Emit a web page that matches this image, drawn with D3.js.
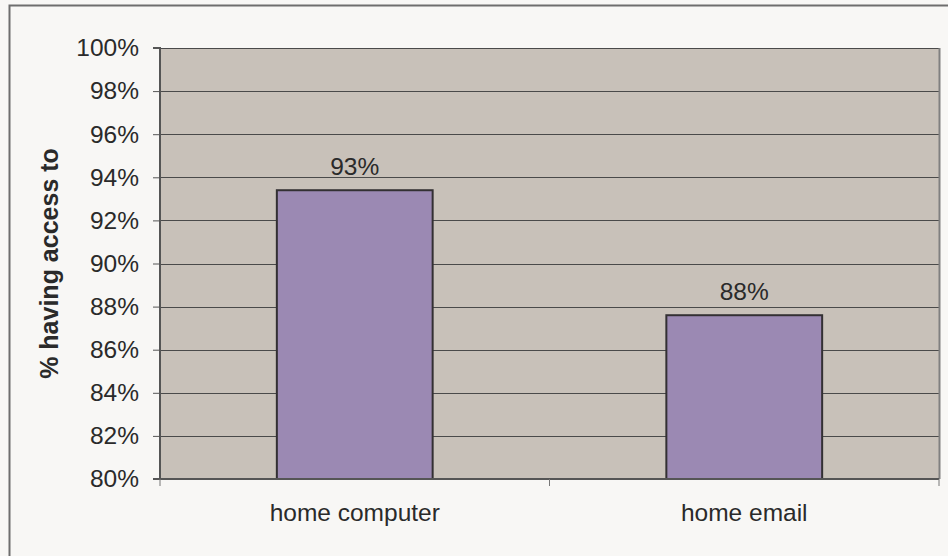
<!DOCTYPE html>
<html>
<head>
<meta charset="utf-8">
<script src="https://cdn.jsdelivr.net/npm/d3@7"></script>
<style>
  html, body { margin: 0; padding: 0; background: #f8f7f5; }
  svg { display: block; font-family: "Liberation Sans", Arial, sans-serif; }
</style>
</head>
<body>
<svg id="chart" width="948" height="556"></svg>
<script>
// Share of respondents with access, per category
const categories = ["home computer", "home email"];
const values = [0.934, 0.876];
const yTicks = [0.80, 0.82, 0.84, 0.86, 0.88, 0.90, 0.92, 0.94, 0.96, 0.98, 1.00];
const yTitle = "% having access to";

const svg = d3.select("#chart");
const W = 948, H = 556;
const m = { left: 160, top: 48, right: 9, bottom: 77 };
const pw = W - m.left - m.right, ph = H - m.top - m.bottom;
const FS = 24.5;

// outer frame
svg.append("rect")
  .attr("x", 9.5).attr("y", 5.5)
  .attr("width", W + 10).attr("height", H + 10)
  .attr("fill", "#f8f7f5").attr("stroke", "#6e6e6e").attr("stroke-width", 2);

const g = svg.append("g").attr("transform", `translate(${m.left},${m.top})`);

const x = d3.scaleBand().domain(categories).range([0, pw]).paddingInner(0.6).paddingOuter(0.3);
const y = d3.scaleLinear().domain([0.8, 1.0]).range([ph, 0]);

// plot background
g.append("rect").attr("width", pw).attr("height", ph).attr("fill", "#c8c1b9");

// grid lines
g.selectAll(".grid").data(yTicks.slice(1)).join("line")
  .attr("x1", 0).attr("x2", pw)
  .attr("y1", d => Math.round(y(d)) + 0.5).attr("y2", d => Math.round(y(d)) + 0.5)
  .attr("stroke", "#4a4a4a").attr("stroke-width", 1);

// right edge of plot area
g.append("line").attr("x1", pw + 0.5).attr("x2", pw + 0.5).attr("y1", 0).attr("y2", ph)
  .attr("stroke", "#808080").attr("stroke-width", 2);

// bars
g.selectAll(".bar").data(values).join("rect")
  .attr("x", (d, i) => x(categories[i]))
  .attr("y", d => y(d))
  .attr("width", x.bandwidth())
  .attr("height", d => ph - y(d))
  .attr("fill", "#9b89b3")
  .attr("stroke", "#333033").attr("stroke-width", 2);

// value labels
const fmt = d3.format(".0%");
g.selectAll(".val").data(values).join("text")
  .attr("x", (d, i) => x(categories[i]) + x.bandwidth() / 2)
  .attr("y", d => y(d) - 15)
  .attr("text-anchor", "middle")
  .attr("font-size", FS).attr("fill", "#2a2a2a")
  .text(d => fmt(d));

// y axis
const yAxis = d3.axisLeft(y).tickValues(yTicks).tickFormat(fmt).tickSize(7).tickPadding(14);
const ya = g.append("g").call(yAxis);
ya.select(".domain").attr("stroke", "#555").attr("stroke-width", 2).attr("d", `M-7,0H0V${ph}H-7`);
ya.selectAll(".tick line").attr("stroke", "#555");
ya.selectAll("text").attr("font-size", FS).attr("fill", "#2a2a2a")
  .attr("font-family", "Liberation Sans, Arial, sans-serif");

// x axis
const xa = g.append("g").attr("transform", `translate(0,${ph})`);
xa.append("line").attr("x1", 0).attr("x2", pw).attr("y1", 0).attr("y2", 0)
  .attr("stroke", "#555").attr("stroke-width", 2);
const boundaries = [0, pw / 2, pw];
xa.selectAll(".xt").data(boundaries).join("line")
  .attr("x1", d => d).attr("x2", d => d).attr("y1", 0).attr("y2", 7)
  .attr("stroke", "#777").attr("stroke-width", 1);
xa.selectAll(".xl").data(categories).join("text")
  .attr("x", d => x(d) + x.bandwidth() / 2)
  .attr("y", 42)
  .attr("text-anchor", "middle")
  .attr("font-size", FS).attr("fill", "#2a2a2a")
  .text(d => d);

// y axis title
svg.append("text")
  .attr("transform", `translate(58,${m.top + ph / 2}) rotate(-90)`)
  .attr("text-anchor", "middle")
  .attr("font-size", 25).attr("font-weight", "bold").attr("fill", "#2a2a2a")
  .text(yTitle);
</script>
</body>
</html>
